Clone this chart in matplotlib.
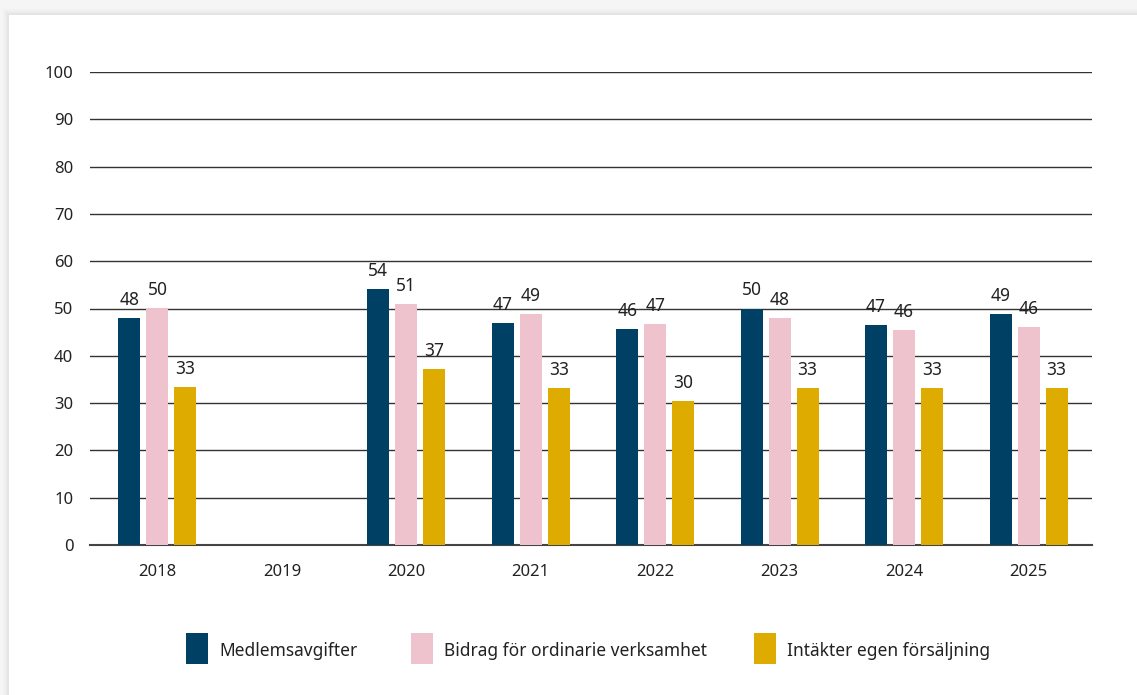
import numpy as np
import matplotlib
matplotlib.use("Agg")
import matplotlib.pyplot as plt
from matplotlib.patches import Rectangle

plt.rcParams['font.family'] = ['Noto Sans', 'DejaVu Sans']

years = ['2018', '2019', '2020', '2021', '2022', '2023', '2024', '2025']
series_names = ['Medlemsavgifter', 'Bidrag för ordinarie verksamhet', 'Intäkter egen försäljning']
medlemsavgifter = [48.0, np.nan, 54.1, 47.0, 45.7, 50.0, 46.6, 48.9]
bidrag = [50.2, np.nan, 50.95, 48.9, 46.8, 48.0, 45.5, 46.1]
intakter = [33.3, np.nan, 37.2, 33.2, 30.4, 33.2, 33.2, 33.2]
colors = ['#004064', '#eec3cd', '#deab00']
yticks = [0, 10, 20, 30, 40, 50, 60, 70, 80, 90, 100]

W, H = 1137, 695
fig = plt.figure(figsize=(W / 100, H / 100), dpi=100)
fig.patch.set_facecolor('#f5f5f5')

# card with soft shadow
for i, a in enumerate([0.015, 0.02, 0.03]):
    d = (3 - i) * 2
    fig.patches.append(Rectangle(((9 - d) / W, 0), 1, (H - 15 + d) / H,
                                 transform=fig.transFigure, facecolor='#000000',
                                 alpha=a, edgecolor='none', zorder=0))
fig.patches.append(Rectangle((9 / W, 0), 1, (H - 15) / H, transform=fig.transFigure,
                             facecolor='white', edgecolor='none', zorder=1))

ax = fig.add_axes([90 / W, 1 - 545 / H, (1092 - 90) / W, (545 - 72) / H])
ax.set_facecolor('none')
ax.set_zorder(2)

x = np.arange(len(years))
width = 0.177
step = 0.225
data = [medlemsavgifter, bidrag, intakter]
for k, (vals, c) in enumerate(zip(data, colors)):
    pos = x + (k - 1) * step
    ax.bar(pos, vals, width=width, color=c, zorder=3)
    for p, v in zip(pos, vals):
        if not np.isnan(v):
            ax.annotate(f"{int(np.floor(v + 0.5))}", (p, v), xytext=(0, 6.5),
                        textcoords='offset points', ha='center', va='bottom',
                        fontsize=12.5, color='#222222', zorder=4)

ax.set_ylim(0, 100)
ax.set_xlim(-0.542, 7.51)
ax.set_yticks(yticks)
ax.set_xticks(x)
ax.set_xticklabels(years)
ax.yaxis.grid(True, color='#333333', linewidth=1.0, zorder=1)
ax.set_axisbelow(True)
for s in ['left', 'right', 'top']:
    ax.spines[s].set_visible(False)
ax.spines['bottom'].set_color('#444444')
ax.spines['bottom'].set_linewidth(1.5)
ax.tick_params(axis='both', length=0, labelsize=12, labelcolor='#222222')
ax.tick_params(axis='y', pad=12)
ax.tick_params(axis='x', pad=14)

# legend
leg_x = [186, 411, 754]
for lx, name, c in zip(leg_x, series_names, colors):
    fig.patches.append(Rectangle((lx / W, 1 - 664 / H), 22 / W, 31 / H,
                                 transform=fig.transFigure, facecolor=c,
                                 edgecolor='none', zorder=3))
    fig.text((lx + 33) / W, 1 - 651 / H, name, ha='left', va='center',
             fontsize=12.5, color='#222222', zorder=3)

fig.savefig('out.png', dpi=100, facecolor=fig.get_facecolor())
